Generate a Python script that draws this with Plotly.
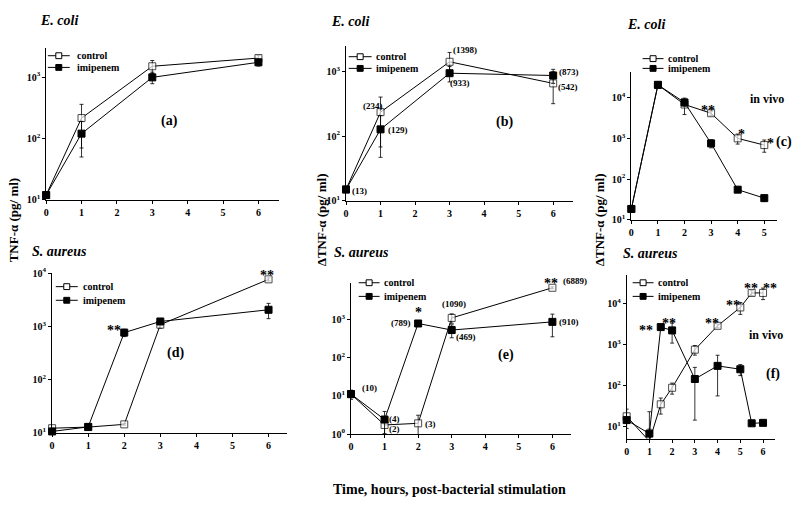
import math
import plotly.graph_objects as go

W, H = 800, 507
FONT = "Liberation Serif"

# ---------------- data ----------------
# (a) E. coli, in vitro TNF-alpha (pg/ml)
a_time = [0, 1, 3, 6]
a_control = [12, 215, 1500, 2040]
a_control_err = [0, 145, 360, 200]
a_imip = [12, 120, 990, 1740]
a_imip_err = [0, 70, 210, 230]

# (b) E. coli, delta TNF-alpha
b_time = [0, 1, 3, 6]
b_control = [15, 234, 1400, 650]
b_control_err = [0, 166, 550, 334]
b_imip = [15, 127, 933, 860]
b_imip_err = [0, 80, 250, 210]
b_control_lab = ["", "(234)", "(1398)", "(542)"]
b_imip_lab = ["(13)", "(129)", "(933)", "(873)"]

# (c) E. coli, in vivo
c_time = [0, 1, 2, 3, 4, 5]
c_control = [18.4, 21000, 6900, 4200, 1010, 690]
c_control_err = [0, 3000, 3000, 500, 280, 230]
c_imip = [18.4, 21000, 7760, 760, 55, 34]
c_imip_err = [0, 3000, 1500, 170, 8, 6]

# (d) S. aureus, in vitro
d_time = [0, 1, 2, 3, 6]
d_control = [12.2, 12.8, 14.4, 1070, 7600]
d_control_err = [0.5, 0.5, 0.5, 150, 500]
d_imip = [10.6, 12.9, 760, 1230, 2040]
d_imip_err = [0.5, 0.8, 120, 100, 650]

# (e) S. aureus, delta TNF-alpha
e_time = [0, 1, 2, 3, 6]
e_control = [11.1, 1.73, 1.91, 1090, 6700]
e_control_err = [3, 0.7, 1.2, 300, 400]
e_imip = [11.1, 2.4, 780, 525, 860]
e_imip_err = [1, 1.5, 80, 195, 510]
e_control_lab = ["(10)", "(2)", "(3)", "(1090)", "(6889)"]
e_imip_lab = ["", "(4)", "(789)", "(469)", "(910)"]

# (f) S. aureus, in vivo
f_time = [0, 1, 1.5, 2, 3, 4, 5, 5.5, 6]
f_control = [18.2, 4.5, 35.6, 90, 760, 2900, 8100, 18300, 18300]
f_control_err = [9, 19, 15, 27, 200, 300, 2600, 2500, 5700]
f_imip = [14.7, 6.9, 2700, 2240, 147, 307, 254, 12.3, 12.6]
f_imip_err = [2, 2, 300, 1140, 135, 250, 76, 0.5, 0.5]

series_names = ["control", "imipenem"]

# ---------------- layout of panels (pixel boxes) ----------------
panels = [
    dict(x=(43.3, 277), y=(198, 42.3), xr=[0, 6.58], yr=[1, 3.47], xt=list(range(7)), yt=[1, 2, 3]),
    dict(x=(344.3, 572), y=(199, 40), xr=[0, 6.57], yr=[1, 3.39], xt=list(range(7)), yt=[1, 2, 3]),
    dict(x=(630.7, 776.7), y=(218.3, 66.7), xr=[0, 5.47], yr=[1, 4.64], xt=list(range(6)), yt=[1, 2, 3, 4]),
    dict(x=(49.3, 285), y=(437, 273), xr=[0, 6.51], yr=[1, 4.0], xt=list(range(7)), yt=[1, 2, 3, 4]),
    dict(x=(349.3, 570), y=(438.3, 283.3), xr=[0, 6.55], yr=[0, 3.95], xt=list(range(7)), yt=[0, 1, 2, 3]),
    dict(x=(626, 775), y=(443, 275), xr=[0, 6.53], yr=[0.716, 4.70], xt=list(range(7)), yt=[1, 2, 3, 4]),
]

series = [
    (a_time, a_control, a_control_err, a_time, a_imip, a_imip_err),
    (b_time, b_control, b_control_err, b_time, b_imip, b_imip_err),
    (c_time, c_control, c_control_err, c_time, c_imip, c_imip_err),
    (d_time, d_control, d_control_err, d_time, d_imip, d_imip_err),
    (e_time, e_control, e_control_err, e_time, e_imip, e_imip_err),
    (f_time, f_control, f_control_err, f_time, f_imip, f_imip_err),
]

# key boxes: (line start x, line end x, text start x, first row y, second row y) in pixels
legend_pos = [(45, 67, 72, 50, 62), (347, 370, 372, 51, 63), (642, 663, 665, 53, 63),
              (53, 75, 78, 287, 301), (357, 378, 380, 283, 297), (632, 653, 655, 283, 297)]

fig = go.Figure()
layout = dict(width=W, height=H, autosize=False, margin=dict(l=0, r=0, t=0, b=0),
              paper_bgcolor="white", plot_bgcolor="white",
              font=dict(family=FONT, color="black"), showlegend=False)


def sfx(i):
    return "" if i == 0 else str(i + 1)


shapes = []
anns = []


def paper_text(px, py, text, size=14, italic=False, angle=0, anchor="center"):
    anns.append(dict(x=px / W, y=1 - py / H, xref="paper", yref="paper", text=text, showarrow=False,
                     xanchor=anchor, yanchor="middle", textangle=angle,
                     font=dict(family=FONT, size=size, weight="bold", color="black",
                               style="italic" if italic else "normal")))


for i, p in enumerate(panels):
    s = sfx(i)
    layout["xaxis" + s] = dict(
        domain=[p["x"][0] / W, p["x"][1] / W], range=p["xr"], anchor="y" + s,
        showline=True, linecolor="black", linewidth=1, showgrid=False, zeroline=False,
        ticks="outside", ticklen=3, tickcolor="black", tickwidth=1,
        tickvals=p["xt"], ticktext=[str(v) for v in p["xt"]],
        tickfont=dict(family=FONT, size=10, weight="bold", color="black"))
    layout["yaxis" + s] = dict(
        domain=[1 - p["y"][0] / H, 1 - p["y"][1] / H], type="log", range=p["yr"], anchor="x" + s,
        showline=True, linecolor="black", linewidth=1, showgrid=False, zeroline=False,
        ticks="outside", ticklen=3, tickcolor="black", tickwidth=1,
        tickvals=[10 ** k for k in p["yt"]], ticktext=["10<sup>%d</sup>" % k for k in p["yt"]],
        tickfont=dict(family=FONT, size=10, weight="bold", color="black"))

    tc, vc, ec, ti, vi, ei = series[i]
    lo = 10 ** p["yr"][0]
    csize = [7 if v >= lo else 0 for v in vc]
    cminus = [min(e, 0.9 * v) if v >= lo else 0 for v, e in zip(vc, ec)]
    iminus = [min(e, 0.9 * v) for v, e in zip(vi, ei)]
    fig.add_trace(go.Scatter(
        x=tc, y=vc, mode="lines+markers", name=series_names[0],
        xaxis="x" + s, yaxis="y" + s, cliponaxis=False,
        line=dict(color="black", width=1),
        marker=dict(symbol="square", size=csize, color="white", line=dict(color="black", width=1)),
        error_y=dict(type="data", array=ec, arrayminus=cminus, color="black", thickness=0.8, width=2)))
    fig.add_trace(go.Scatter(
        x=ti, y=vi, mode="lines+markers", name=series_names[1],
        xaxis="x" + s, yaxis="y" + s, cliponaxis=False,
        line=dict(color="black", width=1),
        marker=dict(symbol="square", size=7, color="black", line=dict(color="black", width=1)),
        error_y=dict(type="data", array=ei, arrayminus=iminus, color="black", thickness=0.8, width=2)))

    # key
    x0, x1, tx, y1, y2 = legend_pos[i]
    for name, yy, fill in ((series_names[0], y1, "white"), (series_names[1], y2, "black")):
        shapes.append(dict(type="line", xref="paper", yref="paper", x0=x0 / W, x1=x1 / W,
                           y0=1 - yy / H, y1=1 - yy / H, line=dict(color="black", width=1)))
        cx = (x0 + x1) / 2
        shapes.append(dict(type="rect", xref="paper", yref="paper", x0=(cx - 3) / W, x1=(cx + 3) / W,
                           y0=1 - (yy + 3) / H, y1=1 - (yy - 3) / H, fillcolor=fill,
                           line=dict(color="black", width=1)))
        paper_text(tx, yy, name, size=10, anchor="left")


def data_text(i, t, v, text, dx, dy, size=9):
    s = sfx(i)
    anns.append(dict(x=t, y=math.log10(v), xref="x" + s, yref="y" + s, text=text, showarrow=False,
                     xanchor="center", yanchor="middle", xshift=dx, yshift=dy,
                     font=dict(family=FONT, size=size, weight="bold", color="black")))


# panel titles
paper_text(56, 14, "E. coli", italic=True)
paper_text(348, 15, "E. coli", italic=True)
paper_text(645, 18, "E. coli", italic=True)
paper_text(57, 251, "S. aureus", italic=True)
paper_text(360, 252, "S. aureus", italic=True)
paper_text(650, 253, "S. aureus", italic=True)

# panel letters and notes
paper_text(166.7, 117.3, "(a)")
paper_text(503, 118, "(b)")
paper_text(784, 138.3, "(c)")
paper_text(173, 355, "(d)")
paper_text(505, 356.7, "(e)")
paper_text(773.3, 376.7, "(f)")
paper_text(766.7, 94.3, "in vivo", size=12)
paper_text(766, 336.7, "in vivo", size=12)

# axis titles
paper_text(10, 218, "TNF-α (pg/ ml)", size=13, angle=-90)
paper_text(320, 218, "ΔTNF-α (pg/ ml)", size=13, angle=-90)
paper_text(599, 218, "ΔTNF-α (pg/ ml)", size=13, angle=-90)
paper_text(448, 495, "Time, hours, post-bacterial stimulation", size=14)

# value labels (b)
b_ctrl_shift = [(0, 0), (-8, 6), (15, 12), (15, -4)]
b_imip_shift = [(13, -2), (17, -1), (10, -10), (16, 4)]
for k in range(len(b_time)):
    if b_control_lab[k]:
        data_text(1, b_time[k], b_control[k], b_control_lab[k], *b_ctrl_shift[k])
    if b_imip_lab[k]:
        data_text(1, b_time[k], b_imip[k], b_imip_lab[k], *b_imip_shift[k])

# value labels (e)
e_ctrl_shift = [(19, 6), (10, -4), (12, -1), (2, 14), (23, 7)]
e_imip_shift = [(0, 0), (10, 1), (-17, 0), (14, -7), (17, 0)]
for k in range(len(e_time)):
    if e_control_lab[k]:
        data_text(4, e_time[k], e_control[k], e_control_lab[k], *e_ctrl_shift[k])
    if e_imip_lab[k]:
        data_text(4, e_time[k], e_imip[k], e_imip_lab[k], *e_imip_shift[k])

# significance marks
data_text(2, c_time[3], c_control[3], "**", -3, 3, 14)
data_text(2, c_time[4], c_control[4], "*", 4, 4, 14)
data_text(2, c_time[5], c_control[5], "*", 6, 2, 14)
data_text(3, d_time[2], d_imip[2], "**", -10, 2, 14)
data_text(3, d_time[4], d_control[4], "**", -2, 4, 14)
data_text(4, e_time[2], e_imip[2], "*", 0, 11, 14)
data_text(4, e_time[4], e_control[4], "**", -1, 4, 14)
data_text(5, f_time[2], f_imip[2], "**", -15, -3, 14)
data_text(5, f_time[3], f_imip[3], "**", -3, 7, 14)
data_text(5, f_time[5], f_control[5], "**", -6, 2, 14)
data_text(5, f_time[6], f_control[6], "**", -7, 2, 14)
data_text(5, f_time[7], f_control[7], "**", -1, 4, 14)
data_text(5, f_time[8], f_control[8], "**", 7, 4, 14)

layout["annotations"] = anns
layout["shapes"] = shapes
fig.update_layout(**layout)
fig.write_html("out.html", config={"displayModeBar": False},
               post_script="document.body.style.margin='0';document.body.style.padding='0';")
